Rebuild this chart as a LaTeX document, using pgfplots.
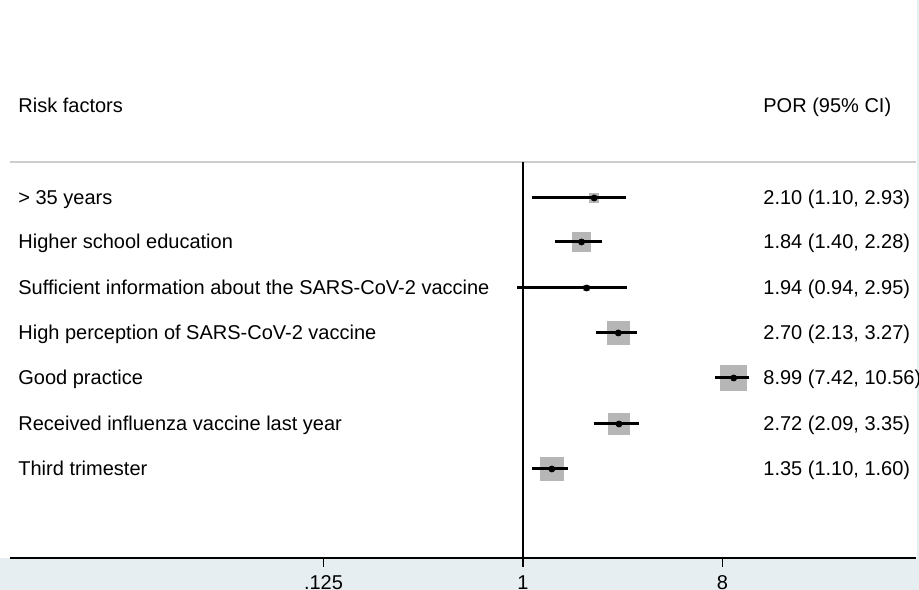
\documentclass[border=0pt]{standalone}
\usepackage{pgfplots}
\pgfplotsset{compat=1.18}
\usepackage{fontspec}
\setmainfont{Liberation Sans}
\definecolor{bgblue}{RGB}{230,238,242}
\definecolor{sqgray}{RGB}{182,182,182}
\definecolor{hline}{RGB}{205,205,205}
\begin{document}
\fontsize{10}{12}\selectfont
\begin{tikzpicture}
\begin{axis}[
  scale only axis, width=453pt, height=279pt,
  xmode=log, log basis x=2, xmin=0.004763, xmax=60.12,
  ymin=-558, ymax=0,
  axis x line=bottom, axis y line=none,
  x axis line style={-, line width=0.75pt},
  xtick={0.125,1,8}, xticklabels={},
  minor xtick={},
  tick align=outside, major tick length=4.5pt,
  tick style={black, line width=0.6pt},
  clip=false, clip mode=individual, axis on top,
  sq/.style={only marks, color=sqgray, mark=square*, mark options={draw=sqgray, fill=sqgray, line width=0pt}},
]
\coordinate (bl) at (axis cs:0.004290,-590);
\coordinate (tr) at (axis cs:62.03,0);
% background pieces
\fill[bgblue] (axis cs:0.004290,-558) rectangle (axis cs:62.03,-600);
\fill[bgblue] (axis cs:60.5,0) rectangle (axis cs:62.03,-600);
\draw[hline, line width=1pt] (axis cs:0.004763,-162) -- (axis cs:60.12,-162);
\draw[black, line width=0.75pt] (axis cs:1,-162) -- (axis cs:1,-558);
% squares (size ~ weight)
\addplot[sq, mark size=2.4pt] coordinates {(2.10,-198)};
\addplot[sq, mark size=4.6pt] coordinates {(1.84,-242)};
\addplot[sq, mark size=1.4pt] coordinates {(1.94,-288)};
\addplot[sq, mark size=5.6pt] coordinates {(2.70,-333)};
\addplot[sq, mark size=6.4pt] coordinates {(8.99,-378)};
\addplot[sq, mark size=5.1pt] coordinates {(2.72,-424)};
\addplot[sq, mark size=5.9pt] coordinates {(1.35,-469)};
% confidence intervals
\addplot[black, line width=1.5pt, mark=none] coordinates {(1.10,-198) (2.93,-198)};
\addplot[black, line width=1.5pt, mark=none] coordinates {(1.40,-242) (2.28,-242)};
\addplot[black, line width=1.5pt, mark=none] coordinates {(0.94,-288) (2.95,-288)};
\addplot[black, line width=1.5pt, mark=none] coordinates {(2.13,-333) (3.27,-333)};
\addplot[black, line width=1.5pt, mark=none] coordinates {(7.42,-378) (10.56,-378)};
\addplot[black, line width=1.5pt, mark=none] coordinates {(2.09,-424) (3.35,-424)};
\addplot[black, line width=1.5pt, mark=none] coordinates {(1.10,-469) (1.60,-469)};
% point estimates
\addplot[only marks, color=black, mark=*, mark size=1.5pt, mark options={draw=black, fill=black}] coordinates {
(2.10,-198) (1.84,-242) (1.94,-288) (2.70,-333) (8.99,-378) (2.72,-424) (1.35,-469)};
% tick labels
\node[anchor=base, inner sep=0] at (axis cs:0.125,-590) {.125};
\node[anchor=base, inner sep=0] at (axis cs:1,-590) {1};
\node[anchor=base, inner sep=0] at (axis cs:8,-590) {8};
% texts
\node[anchor=base west, inner sep=0] at (axis cs:0.005176,-113) {Risk factors};
\node[anchor=base west, inner sep=0] at (axis cs:12.20,-113) {POR (95\% CI)};
\node[anchor=base west, inner sep=0] at (axis cs:0.005176,-205) {> 35 years};
\node[anchor=base west, inner sep=0] at (axis cs:0.005176,-249) {Higher school education};
\node[anchor=base west, inner sep=0] at (axis cs:0.005176,-295) {Sufficient information about the SARS-CoV-2 vaccine};
\node[anchor=base west, inner sep=0] at (axis cs:0.005176,-340) {High perception of SARS-CoV-2 vaccine};
\node[anchor=base west, inner sep=0] at (axis cs:0.005176,-385) {Good practice};
\node[anchor=base west, inner sep=0] at (axis cs:0.005176,-431) {Received influenza vaccine last year};
\node[anchor=base west, inner sep=0] at (axis cs:0.005176,-476) {Third trimester};
\node[anchor=base west, inner sep=0] at (axis cs:12.20,-205) {2.10 (1.10, 2.93)};
\node[anchor=base west, inner sep=0] at (axis cs:12.20,-249) {1.84 (1.40, 2.28)};
\node[anchor=base west, inner sep=0] at (axis cs:12.20,-295) {1.94 (0.94, 2.95)};
\node[anchor=base west, inner sep=0] at (axis cs:12.20,-340) {2.70 (2.13, 3.27)};
\node[anchor=base west, inner sep=0] at (axis cs:12.20,-385) {8.99 (7.42, 10.56)};
\node[anchor=base west, inner sep=0] at (axis cs:12.20,-431) {2.72 (2.09, 3.35)};
\node[anchor=base west, inner sep=0] at (axis cs:12.20,-476) {1.35 (1.10, 1.60)};
\end{axis}
\pgfresetboundingbox
\path[use as bounding box] (bl) rectangle (tr);
\end{tikzpicture}
\end{document}
